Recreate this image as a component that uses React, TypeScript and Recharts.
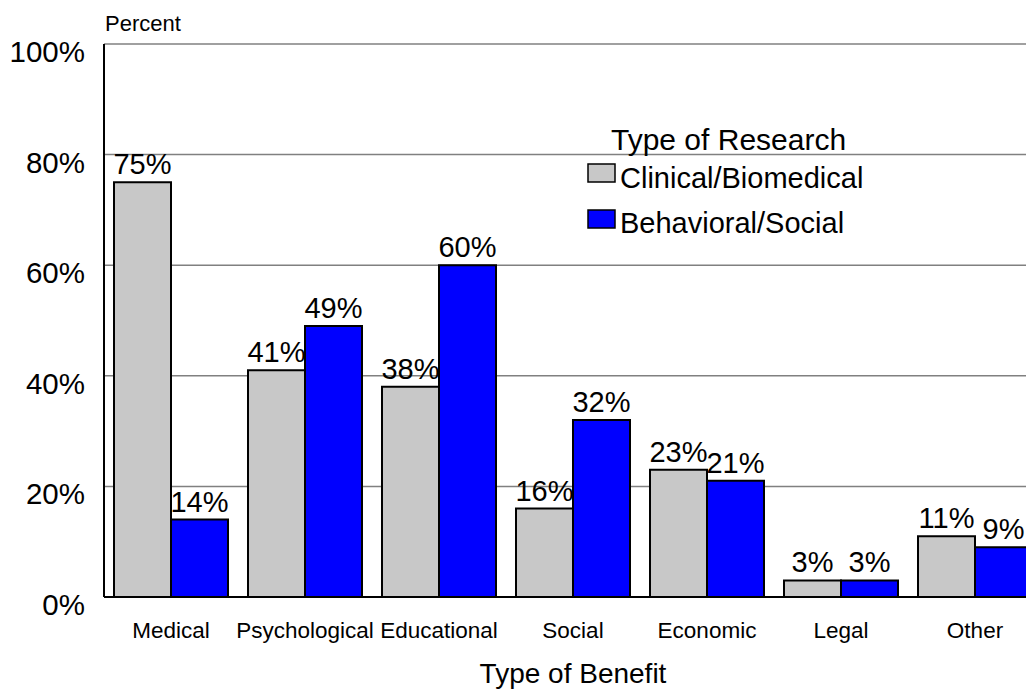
import { Bar, BarChart, CartesianGrid, LabelList, Legend, XAxis, YAxis } from 'recharts';

const FONT = '"Liberation Sans", Arial, Helvetica, sans-serif';

const CATEGORIES = ['Medical', 'Psychological', 'Educational', 'Social', 'Economic', 'Legal', 'Other'];
const CLINICAL = [75, 41, 38, 16, 23, 3, 11];
const BEHAVIORAL = [14, 49, 60, 32, 21, 3, 9];
const Y_TICKS = [0, 20, 40, 60, 80, 100];

const SERIES = [
  { key: 'clinical', name: 'Clinical/Biomedical', color: '#C8C8C8' },
  { key: 'behavioral', name: 'Behavioral/Social', color: '#0000FF' },
];

const data = CATEGORIES.map((name, i) => ({
  name,
  clinical: CLINICAL[i],
  behavioral: BEHAVIORAL[i],
}));

function YTick({ y, payload }: any) {
  return (
    <text x={85} y={y + 18} textAnchor="end" fontSize={29.5} fill="#000" fontFamily={FONT}>
      {payload.value}%
    </text>
  );
}

function XTick({ x, y, payload }: any) {
  return (
    <text x={x} y={y + 33} textAnchor="middle" fontSize={22.5} fill="#000" fontFamily={FONT}>
      {payload.value}
    </text>
  );
}

function ValueLabel({ x, y, width, value }: any) {
  return (
    <text x={x + width / 2} y={y - 8} textAnchor="middle" fontSize={29} fill="#000" fontFamily={FONT}>
      {value}%
    </text>
  );
}

function LegendBox({ payload }: any) {
  // keep series order (legend sorts by name otherwise)
  const items = SERIES.map((s) => (payload ?? []).find((p: any) => p.value === s.name) ?? { value: s.name, color: s.color });
  return (
    <svg width={320} height={130} style={{ overflow: 'visible' }}>
      <text x={25} y={32} fontSize={30} fill="#000" fontFamily={FONT}>
        Type of Research
      </text>
      {items.map((p: any, i: number) => (
        <g key={p.value}>
          <rect x={2} y={46 + i * 46} width={27} height={18} fill={p.color} stroke="#000" strokeWidth={1.5} />
          <text x={34} y={70 + i * 45} fontSize={29} fill="#000" fontFamily={FONT}>
            {p.value}
          </text>
        </g>
      ))}
    </svg>
  );
}

export default function App() {
  return (
    <div
      style={{
        position: 'fixed',
        left: 0,
        top: 0,
        width: 1026,
        height: 690,
        overflow: 'hidden',
        background: '#fff',
      }}
    >
      <BarChart
        width={1060}
        height={690}
        data={data}
        margin={{ top: 44, right: 18, bottom: 0, left: 0 }}
        barCategoryGap={10}
        barGap={0}
      >
        <CartesianGrid vertical={false} stroke="#808080" strokeWidth={1.5} />
        <XAxis
          dataKey="name"
          height={93}
          tickLine={false}
          axisLine={{ stroke: '#000', strokeWidth: 2 }}
          tick={<XTick />}
          interval={0}
          label={(props: any) => {
            const vb = props.viewBox;
            return (
              <text x={vb.x + vb.width / 2} y={vb.y + 86} textAnchor="middle" fontSize={28} fill="#000" fontFamily={FONT}>
                Type of Benefit
              </text>
            );
          }}
        />
        <YAxis
          width={104}
          domain={[0, 100]}
          ticks={Y_TICKS}
          interval={0}
          tickLine={false}
          axisLine={{ stroke: '#000', strokeWidth: 2 }}
          tick={<YTick />}
          label={(props: any) => {
            const vb = props.viewBox;
            return (
              <text x={vb.x + vb.width + 1} y={vb.y - 13} fontSize={22} fill="#000" fontFamily={FONT}>
                Percent
              </text>
            );
          }}
        />
        <Legend
          layout="horizontal"
          verticalAlign="middle"
          align="center"
          wrapperStyle={{ position: 'absolute', left: 586, top: 118, width: 320, height: 130 }}
          content={<LegendBox />}
        />
        {SERIES.map((s) => (
          <Bar
            key={s.key}
            dataKey={s.key}
            name={s.name}
            fill={s.color}
            stroke="#000"
            strokeWidth={2}
            isAnimationActive={false}
          >
            <LabelList dataKey={s.key} content={<ValueLabel />} />
          </Bar>
        ))}
      </BarChart>
    </div>
  );
}
